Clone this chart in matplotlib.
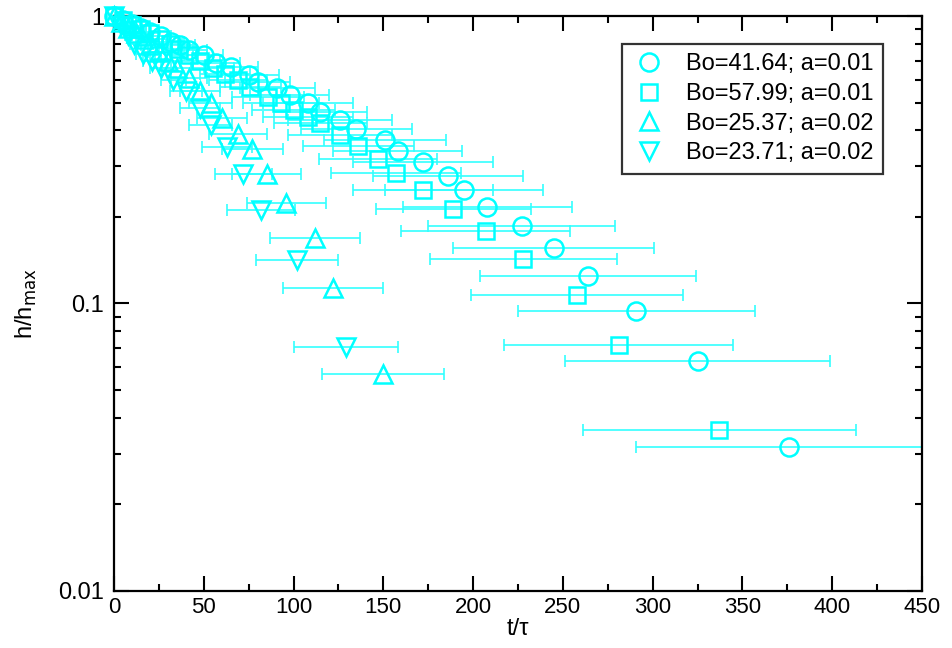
import matplotlib
matplotlib.use("Agg")
import matplotlib.pyplot as plt
from matplotlib.ticker import MultipleLocator, LogLocator, NullFormatter, FixedLocator, FixedFormatter

plt.rcParams["font.family"] = ["Liberation Sans", "DejaVu Sans"]

# Bo=41.64; a=0.01 (circles)
t_circ = [0, 5, 10, 15, 20, 26, 32, 37, 42, 50, 57, 65, 75, 80, 91, 98, 108, 115,
          126, 135, 151, 158, 172, 186, 195, 208, 227, 245, 264, 291, 325, 376]
h_circ = [1.0, 0.97, 0.94, 0.91, 0.88, 0.85, 0.81, 0.79, 0.76, 0.73, 0.684, 0.667,
          0.623, 0.59, 0.56, 0.531, 0.497, 0.465, 0.435, 0.405, 0.37, 0.34, 0.31,
          0.278, 0.248, 0.217, 0.186, 0.156, 0.125, 0.094, 0.063, 0.0317]
e_circ = [0, 1, 2, 3, 5, 6, 7, 8, 10, 11, 13, 15, 17, 18, 21, 22, 25, 26, 29, 31,
          34, 36, 39, 42, 44, 47, 52, 56, 60, 66, 74, 85]

# Bo=57.99; a=0.01 (squares)
t_sq = [0, 5, 10, 15, 20, 25, 31, 36, 42, 48, 55, 62, 69, 76, 86, 93, 100, 108, 115,
        126, 136, 147, 157, 172, 189, 207, 228, 258, 281, 337]
h_sq = [1.0, 0.965, 0.93, 0.9, 0.87, 0.83, 0.8, 0.77, 0.73, 0.7, 0.66, 0.63, 0.6,
        0.565, 0.524, 0.5, 0.47, 0.447, 0.423, 0.386, 0.353, 0.317, 0.284, 0.248,
        0.213, 0.178, 0.143, 0.107, 0.072, 0.0363]
e_sq = [0, 1, 2, 3, 5, 6, 7, 8, 10, 11, 12, 14, 16, 17, 20, 21, 23, 25, 26, 29, 31,
        33, 36, 39, 43, 47, 52, 59, 64, 76]

# Bo=25.37; a=0.02 (triangles up)
t_up = [0, 4, 8, 12, 16, 20, 25, 30, 35, 42, 48, 54, 60, 69, 77, 85, 96, 112, 122, 150]
h_up = [1.0, 0.955, 0.91, 0.87, 0.83, 0.79, 0.75, 0.70, 0.66, 0.61, 0.55, 0.5, 0.442,
        0.39, 0.345, 0.281, 0.224, 0.169, 0.113, 0.057]
e_up = [0, 1, 2, 3, 4, 5, 6, 7, 8, 10, 11, 12, 14, 16, 17, 19, 22, 25, 28, 34]

# Bo=23.71; a=0.02 (triangles down)
t_dn = [0, 4, 8, 11, 16, 21, 26, 33, 40, 48, 54, 63, 72, 82, 102, 129]
h_dn = [1.0, 0.93, 0.86, 0.80, 0.74, 0.70, 0.66, 0.60, 0.55, 0.477, 0.418, 0.351,
        0.282, 0.211, 0.142, 0.0707]
e_dn = [0, 1, 2, 2, 4, 5, 6, 7, 9, 11, 12, 14, 16, 19, 23, 29]

labels = ["Bo=41.64; a=0.01", "Bo=57.99; a=0.01", "Bo=25.37; a=0.02", "Bo=23.71; a=0.02"]

fig = plt.figure(figsize=(9.52, 6.48), dpi=100)
ax = fig.add_axes([0.1197, 0.088, 0.8488, 0.8873])

series = [
    (t_circ, h_circ, e_circ, "o", 13),
    (t_sq, h_sq, e_sq, "s", 11),
    (t_up, h_up, e_up, "^", 13),
    (t_dn, h_dn, e_dn, "v", 13),
]
for (t, h, e, m, ms), lab in zip(series, labels):
    ax.errorbar(t, h, xerr=e, fmt="none", ecolor="#33ffff", elinewidth=1.2,
                capsize=4.5, capthick=1.2)
    ax.plot(t, h, linestyle="none", marker=m, markersize=ms, markerfacecolor="none",
            markeredgecolor="cyan", markeredgewidth=1.8, label=lab, clip_on=False,
            zorder=3)

ax.set_yscale("log")
ax.set_xlim(0, 450)
ax.set_ylim(0.01, 1)

ax.xaxis.set_major_locator(MultipleLocator(50))
ax.xaxis.set_minor_locator(MultipleLocator(25))
ax.yaxis.set_major_locator(FixedLocator([0.01, 0.1, 1]))
ax.yaxis.set_major_formatter(FixedFormatter(["0.01", "0.1", "1"]))
ax.yaxis.set_minor_locator(LogLocator(base=10, subs=range(2, 10)))
ax.yaxis.set_minor_formatter(NullFormatter())

ax.tick_params(which="both", direction="in", top=True, right=True, width=1.5)
ax.tick_params(which="major", length=10.5)
ax.tick_params(which="minor", length=5)
ax.tick_params(axis="x", pad=4, labelsize=16)
ax.tick_params(axis="y", pad=7, labelsize=17)
for s in ax.spines.values():
    s.set_linewidth(1.6)

ax.set_xlabel("t/\u03c4", fontsize=17, labelpad=0)
ax.set_ylabel("h/h$_{\\mathrm{max}}$", fontsize=17, labelpad=14)

leg = ax.legend(loc="upper right", bbox_to_anchor=(0.9517, 0.9513), borderaxespad=0,
                fontsize=17, frameon=True, fancybox=False, handletextpad=0.8,
                labelspacing=0.32, borderpad=0.4, handlelength=1.5)
leg.get_frame().set_edgecolor("black")
leg.get_frame().set_linewidth(1.6)

fig.savefig("out.png", dpi=100)
